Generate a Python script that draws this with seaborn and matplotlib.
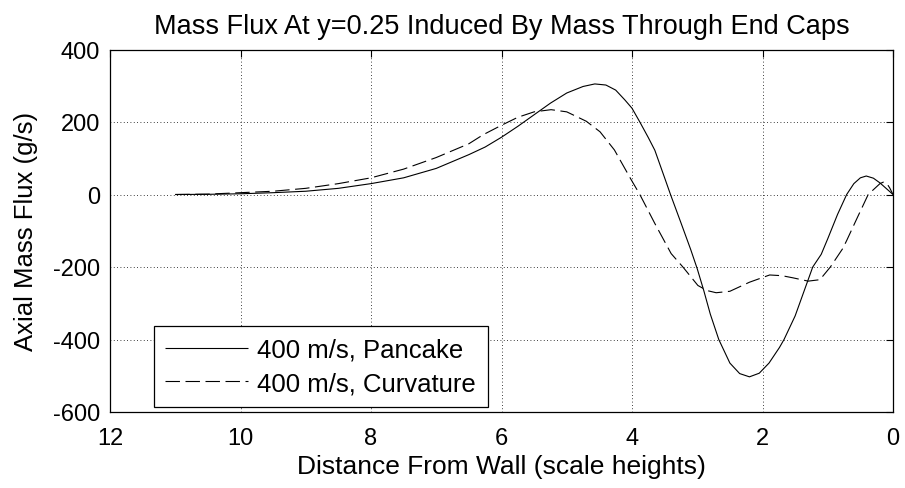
import numpy as np
import pandas as pd
import matplotlib
matplotlib.use("Agg")
import matplotlib.pyplot as plt
import seaborn as sns

# Pancake (solid) series: distance from wall vs axial mass flux
pancake_x = [11.0, 10.5, 10.0, 9.5, 9.0, 8.5, 8.0, 7.5, 7.0, 6.5, 6.25, 6.0, 5.75, 5.5,
             5.25, 5.0, 4.75, 4.57, 4.4, 4.25, 4.11, 4.0, 3.88, 3.75, 3.65, 3.5, 3.41,
             3.25, 3.1, 3.0, 2.9, 2.8, 2.67, 2.5, 2.35, 2.2, 2.05, 1.9, 1.74, 1.67, 1.5,
             1.35, 1.23, 1.1, 1.0, 0.85, 0.71, 0.6, 0.5, 0.41, 0.3, 0.2, 0.1, 0.0]
pancake_y = [0, 0.5, 2, 5, 9, 17, 30, 46, 72, 110, 131, 158, 188, 220,
             252, 280, 298, 305, 302, 288, 261, 238, 200, 157, 122, 46, 0,
             -78, -152, -205, -265, -330, -400, -465, -494, -503, -493, -465, -422, -400, -335,
             -260, -200, -165, -122, -55, 0, 30, 46, 51, 45, 32, 16, 0]

# Curvature (dashed) series
curv_x = [11.0, 10.5, 10.0, 9.5, 9.0, 8.5, 8.0, 7.5, 7.0, 6.5, 6.28, 6.0, 5.75, 5.5,
          5.24, 5.0, 4.7, 4.49, 4.27, 4.01, 3.88, 3.65, 3.4, 3.22, 2.99, 2.85, 2.71,
          2.5, 2.2, 1.89, 1.7, 1.53, 1.3, 1.12, 0.96, 0.77, 0.71, 0.55, 0.38, 0.2,
          0.15, 0.1, 0.05, 0.0]
curv_y = [0, 1, 5, 9, 17, 30, 46, 70, 102, 140, 165, 191, 213, 228,
          234, 228, 202, 173, 123, 40, 0, -80, -163, -200, -251, -265, -271,
          -267, -242, -222, -224, -230, -239, -235, -200, -149, -127, -65, 0, 30,
          34, 32, 18, 0]

labels = ["400 m/s, Pancake", "400 m/s, Curvature"]
x_ticks = [12, 10, 8, 6, 4, 2, 0]
y_ticks = [-600, -400, -200, 0, 200, 400]

sns.set_theme(style="white")
plt.rcParams["font.family"] = ["Liberation Sans", "DejaVu Sans"]
plt.rcParams["axes.unicode_minus"] = False
plt.rcParams["text.color"] = "black"
plt.rcParams["axes.labelcolor"] = "black"

df = pd.concat([
    pd.DataFrame({"x": pancake_x, "y": pancake_y, "series": labels[0]}),
    pd.DataFrame({"x": curv_x, "y": curv_y, "series": labels[1]}),
])

fig = plt.figure(figsize=(9.05, 4.89), dpi=100)
ax = fig.add_axes([110 / 905, 1 - 413 / 489, (893 - 110) / 905, (413 - 50.5) / 489])

sns.lineplot(data=df, x="x", y="y", hue="series", style="series",
             palette=["black", "black"], dashes=[(1, 0), (13, 5)],
             linewidth=0.8, sort=False, estimator=None, ax=ax, legend=False)

ax.set_xlim(12, 0)
ax.set_ylim(-600, 400)
ax.set_xticks(x_ticks)
ax.set_yticks(y_ticks)
ax.grid(True, color="black", linestyle=(0, (1, 3)), linewidth=0.6)
ax.tick_params(direction="in", length=5, width=0.8, top=True, right=True,
               labelsize=17, colors="black")
ax.tick_params(axis="y", pad=7)
ax.tick_params(axis="x", pad=10.5)
for s in ax.spines.values():
    s.set_color("black")
    s.set_linewidth(0.9)

ax.set_title("Mass Flux At y=0.25 Induced By Mass Through End Caps",
             fontsize=19.5, pad=12, color="black")
ax.set_xlabel("Distance From Wall (scale heights)", fontsize=19, labelpad=4)
ax.set_ylabel("Axial Mass Flux (g/s)", fontsize=18.5, labelpad=11)

lines = ax.get_lines()[:2]
leg = ax.legend(lines, labels, loc="lower left", bbox_to_anchor=(0.056, 0.014),
                frameon=True, fancybox=False, edgecolor="black", framealpha=1,
                fontsize=18.5, handlelength=3.2, borderpad=0.45, labelspacing=0.38,
                handletextpad=0.38, borderaxespad=0.0)
leg.get_frame().set_linewidth(0.9)

fig.savefig("out.png", dpi=100, facecolor="white")
